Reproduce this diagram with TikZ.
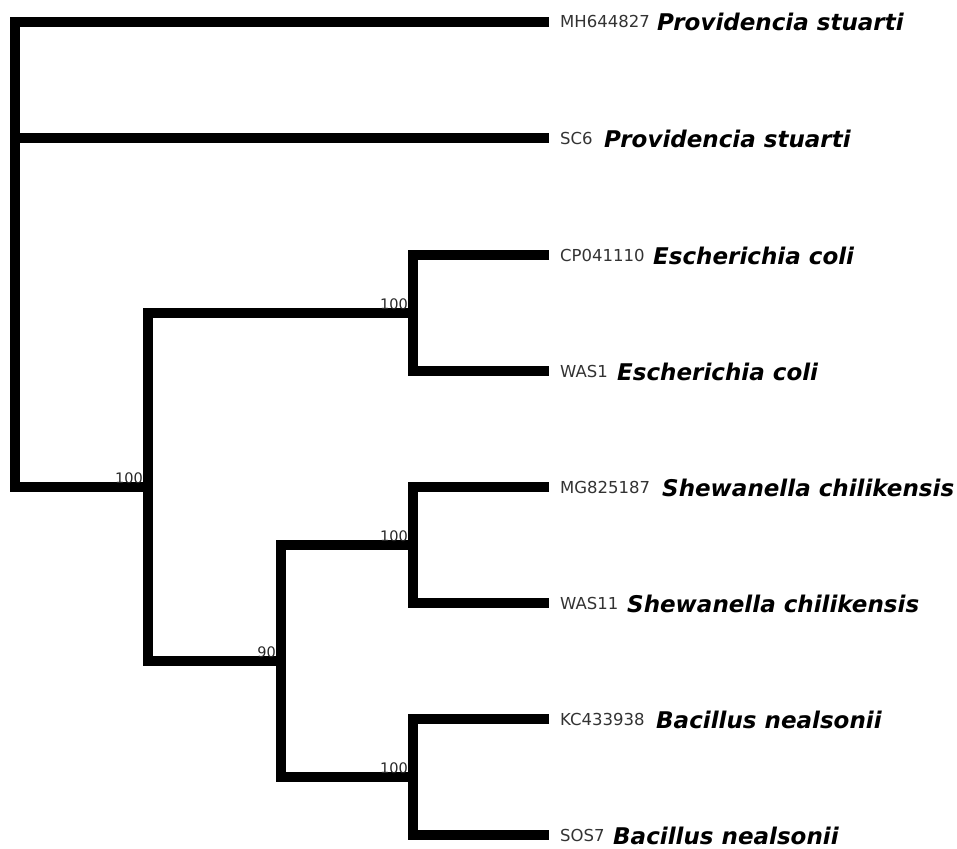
\documentclass[tikz,border=0pt]{standalone}
\usepackage{fontspec}
\setmainfont{DejaVu Sans}
\begin{document}
\begin{tikzpicture}[x=1pt,y=-1pt,
  branch/.style={line width=10pt, line join=miter, line cap=butt},
  acc/.style={anchor=base west, inner sep=0pt, font=\fontsize{16.5}{18}\selectfont, text=black!80},
  sp/.style={anchor=base west, inner sep=0pt, font=\fontsize{23}{26}\selectfont\bfseries\itshape},
  boot/.style={anchor=base east, inner sep=0pt, font=\fontsize{14.5}{16}\selectfont, text=black!85}]
\useasboundingbox (0,0) rectangle (957,848);
% leaves
\coordinate (l1) at (549,22);
\coordinate (l2) at (549,138);
\coordinate (l3) at (549,255);
\coordinate (l4) at (549,371);
\coordinate (l5) at (549,487);
\coordinate (l6) at (549,603);
\coordinate (l7) at (549,719);
\coordinate (l8) at (549,835);
% internal nodes
\coordinate (r) at (15,487);
\coordinate (s2) at (15,138);
\coordinate (a) at (148,487);
\coordinate (b) at (413,313);
\coordinate (c) at (281,661);
\coordinate (d) at (413,545);
\coordinate (e) at (413,777);
% branches
\draw[branch] (l1) -| (r) -- (a);
\draw[branch] (s2) -- (l2);
\draw[branch] (b) -| (a) |- (c);
\draw[branch] (l3) -| (b) |- (l4);
\draw[branch] (d) -| (c) |- (e);
\draw[branch] (l5) -| (d) |- (l6);
\draw[branch] (l7) -| (e) |- (l8);
% bootstrap values
\node[boot] (ba) at ([xshift=-5pt,yshift=4pt]a) {100};
\node[boot] (bb) at ([xshift=-5pt,yshift=4pt]b) {100};
\node[boot] (bc) at ([xshift=-5pt,yshift=4pt]c) {90};
\node[boot] (bd) at ([xshift=-5pt,yshift=4pt]d) {100};
\node[boot] (be) at ([xshift=-5pt,yshift=4pt]e) {100};
% labels
\node[acc] (a1) at (560,28) {MH644827};
\node[sp] (n1) at (657,31) {Providencia stuarti};
\node[acc] (a2) at (560,144) {SC6};
\node[sp] (n2) at (604,147) {Providencia stuarti};
\node[acc] (a3) at (560,261) {CP041110};
\node[sp] (n3) at (653,264) {Escherichia coli};
\node[acc] (a4) at (560,377) {WAS1};
\node[sp] (n4) at (617,380) {Escherichia coli};
\node[acc] (a5) at (560,493) {MG825187};
\node[sp] (n5) at (662,496) {Shewanella chilikensis};
\node[acc] (a6) at (560,609) {WAS11};
\node[sp] (n6) at (627,612) {Shewanella chilikensis};
\node[acc] (a7) at (560,725) {KC433938};
\node[sp] (n7) at (656,728) {Bacillus nealsonii};
\node[acc] (a8) at (560,841) {SOS7};
\node[sp] (n8) at (613,844) {Bacillus nealsonii};
\end{tikzpicture}
\end{document}
